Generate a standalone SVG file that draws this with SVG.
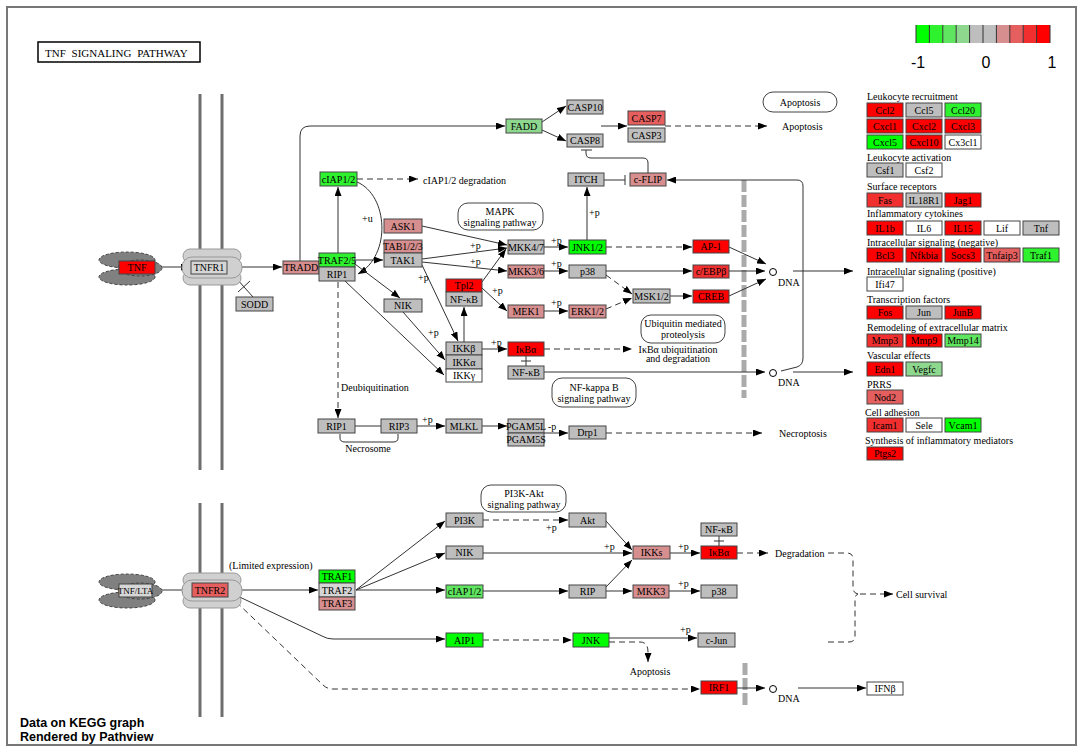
<svg xmlns="http://www.w3.org/2000/svg" width="1084" height="753" viewBox="0 0 1084 753">
<defs>
<marker id="ah" markerWidth="9" markerHeight="7" refX="9" refY="3.5" orient="auto" markerUnits="userSpaceOnUse"><path d="M0,0 L9,3.5 L0,7 z" fill="#000"/></marker>
<style>
.n rect{stroke:#444;stroke-width:1}
.g{fill:#bebebe}.lg{fill:#d6d6d6}.w{fill:#fff}
.r{fill:#ff0000}.r2{fill:#f22f2f}.r3{fill:#e55f5f}.r4{fill:#d78e8e}
.gr{fill:#00ff00}.gr2{fill:#2ff22f}.gr3{fill:#5fe55f}.gr4{fill:#8ed78e}
text{font-family:"Liberation Serif","Times New Roman",serif;font-size:10px;fill:#000}
.t{text-anchor:middle}
.c path,.c line{stroke:#333;stroke-width:1;fill:none}
.c .a{marker-end:url(#ah)}
.c .d{stroke-dasharray:6,4}
.pill{fill:#fff;stroke:#444;stroke-width:1}
.mem{stroke:#6e6e6e;stroke-width:3}
.nuc{stroke:#aaaaaa;stroke-width:5;stroke-dasharray:12,3}
.lig ellipse{fill:#808080;stroke:#444;stroke-width:1;stroke-dasharray:3,2}
.rec rect{fill:#d0d0d0;stroke:#999;stroke-width:1}
.leg{font-family:"Liberation Sans",Arial,sans-serif;font-size:16px;text-anchor:middle}
.foot{font-family:"Liberation Sans",Arial,sans-serif;font-size:12.5px;font-weight:bold}
</style>
</defs>
<rect x="0" y="0" width="1084" height="753" fill="#fff"/>
<rect x="7" y="7" width="1069" height="738" fill="none" stroke="#777" stroke-width="2"/>
<g id="title"><rect x="38" y="42" width="162" height="20" fill="#fff" stroke="#000" stroke-width="1.5"/><text x="45" y="57" style="font-size:11px;word-spacing:3px">TNF SIGNALING PATHWAY</text></g>
<g id="membranes">
<line class="mem" x1="200" y1="94" x2="200" y2="470"/><line class="mem" x1="222" y1="94" x2="222" y2="470"/>
<line class="mem" x1="200" y1="503" x2="200" y2="717"/><line class="mem" x1="222" y1="503" x2="222" y2="717"/>
<line class="nuc" x1="744" y1="180" x2="744" y2="398"/><line class="nuc" x1="745" y1="663" x2="745" y2="708"/>
</g>
<g id="legend">
<rect x="916" y="25" width="13.4" height="18" fill="#00ff00"/><rect x="929.4" y="25" width="13.4" height="18" fill="#2ff22f"/><rect x="942.8" y="25" width="13.4" height="18" fill="#5fe55f"/><rect x="956.2" y="25" width="13.4" height="18" fill="#8ed78e"/><rect x="969.6" y="25" width="13.4" height="18" fill="#bebebe"/><rect x="983" y="25" width="13.4" height="18" fill="#bebebe"/><rect x="996.4" y="25" width="13.4" height="18" fill="#d78e8e"/><rect x="1009.8" y="25" width="13.4" height="18" fill="#e55f5f"/><rect x="1023.2" y="25" width="13.4" height="18" fill="#f22f2f"/><rect x="1036.6" y="25" width="13.4" height="18" fill="#ff0000"/>
<path d="M916,25V43M929.4,25V43M942.8,25V43M956.2,25V43M969.6,25V43M983,25V43M996.4,25V43M1009.8,25V43M1023.2,25V43M1036.6,25V43M1050,25V43" stroke="#333" stroke-width="1"/>
<text class="leg" x="918" y="68">-1</text><text class="leg" x="986" y="68">0</text><text class="leg" x="1052" y="68">1</text>
</g>
<g class="c" id="connectors">
<path class="a" d="M155,267H190"/>
<path class="a" d="M242,267H282"/>
<path d="M228,269L253,297M238,292L250,281"/>
<path class="a" d="M300,261V136Q300,126 310,126H505"/>
<path class="a" d="M338,253V187"/>
<path class="a d" d="M357,179H418"/>
<path class="a" d="M357,182C388,195 392,255 358,274"/>
<path class="a" d="M355,260H383"/>
<path class="a" d="M355,264L400,298"/>
<path class="a" d="M345,281L444,375"/>
<path class="a" d="M422,265L458,341"/>
<path class="a" d="M403,312L445,360"/>
<path class="a" d="M422,226L507,245"/>
<path class="a" d="M422,259L507,248"/>
<path class="a" d="M422,262L507,271"/>
<path class="a" d="M482,282L506,249"/>
<path class="a" d="M482,288L507,311"/>
<path class="a" d="M464,342V307"/>
<path class="a" d="M482,349H507"/>
<path d="M526,356V366M521,361H531"/>
<path class="a" d="M544,247H568"/>
<path class="a" d="M544,271H568"/>
<path class="a" d="M544,311H568"/>
<path class="a" d="M587,240V187"/>
<path class="a d" d="M606,247H692"/>
<path class="a" d="M606,271H692"/>
<path class="a d" d="M606,275L632,294"/>
<path class="a d" d="M606,309L632,298"/>
<path class="a" d="M670,296H692"/>
<path class="a" d="M729,247L766,264"/>
<path class="a" d="M729,271H765"/>
<path class="a" d="M729,296L766,279"/>
<path class="a" d="M793,271H853"/>
<path class="a d" d="M544,349H632"/>
<path class="a" d="M544,372H765"/>
<path class="a" d="M793,372H853"/>
<path class="a" d="M781,371L797,367Q803,365 803,358V186Q803,180 797,180H667"/>
<path d="M604,180H625M625,175V185"/>
<path d="M648,173V163Q648,158 643,158H591Q586,158 586,153V150M581,150H592"/>
<path class="a" d="M542,122L566,106"/>
<path class="a" d="M542,130L566,141"/>
<path class="a" d="M601,126H627"/>
<path class="a d" d="M665,126H767"/>
<path class="a d" d="M338,282V418"/>
<path d="M355,426H381"/>
<path d="M340,434V438Q340,442 345,442H393Q398,442 398,438V434"/>
<path class="a" d="M417,426H445"/>
<path class="a" d="M482,426H507"/>
<path class="a" d="M544,433H568"/>
<path class="a d" d="M606,433H762"/>
<path class="a" d="M162,590H191"/>
<path class="a" d="M242,590H318"/>
<path class="a" d="M356,590L445,521"/>
<path class="a" d="M356,590L445,553"/>
<path class="a" d="M356,590H445"/>
<path class="a" d="M229,592L322,636Q327,639 333,639H445"/>
<path class="a d" d="M229,595L323,685Q327,689 333,689H700"/>
<path class="a d" d="M483,520H568"/>
<path class="a" d="M606,521L632,550"/>
<path class="a" d="M483,553H632"/>
<path class="a" d="M670,553H700"/>
<path d="M719,536V546M714,541H724"/>
<path class="a d" d="M737,553H768"/>
<path class="a" d="M483,591H568"/>
<path class="a" d="M606,587L632,560"/>
<path class="a" d="M606,591H632"/>
<path class="a" d="M669,591H700"/>
<path class="a d" d="M483,640H572"/>
<path class="a" d="M609,638H697"/>
<path class="a d" d="M609,642H640Q648,642 648,652V662"/>
<path class="a" d="M737,688H765"/>
<path class="a" d="M798,688H866"/>
<path class="d" d="M828,553H847Q853,553 853,559V588Q853,593 858,594M828,642H849Q855,642 855,636V600Q855,595 858,594"/>
<path class="a d" d="M860,594H893"/>
</g>
<g id="labels">
<text x="423" y="184">cIAP1/2 degradation</text>
<text x="362" y="222">+u</text>
<text x="470" y="249">+p</text><text x="470" y="265">+p</text><text x="418" y="281">+p</text><text x="428" y="336">+p</text><text x="492" y="294">+p</text>
<text x="551" y="244">+p</text><text x="551" y="267">+p</text><text x="551" y="306">+p</text><text x="491" y="346">+p</text><text x="589" y="216">+p</text>
<text x="422" y="423">+p</text><text x="548" y="430">-p</text>
<text x="546" y="531">+p</text><text x="604" y="550">+p</text><text x="678" y="550">+p</text><text x="678" y="587">+p</text><text x="680" y="633">+p</text>
<rect class="pill" x="458" y="203" width="85" height="27" rx="10"/><text class="t" x="500" y="215">MAPK</text><text class="t" x="500" y="226">signaling pathway</text>
<rect class="pill" x="763" y="92" width="74" height="20" rx="10"/><text class="t" x="800" y="106">Apoptosis</text>
<text x="782" y="130">Apoptosis</text>
<text x="778" y="286">DNA</text><text x="778" y="386">DNA</text><text x="778" y="702">DNA</text>
<circle cx="773" cy="272" r="3.5" fill="#fff" stroke="#000"/><circle cx="773" cy="373" r="3.5" fill="#fff" stroke="#000"/><circle cx="773" cy="689" r="3.5" fill="#fff" stroke="#000"/>
<rect class="pill" x="641" y="315" width="84" height="28" rx="10"/><text class="t" x="683" y="327">Ubiquitin mediated</text><text class="t" x="683" y="338">proteolysis</text>
<text class="t" x="678" y="353">IκBα ubiquitination</text><text class="t" x="678" y="362">and degradation</text>
<rect class="pill" x="552" y="378" width="84" height="29" rx="10"/><text class="t" x="594" y="391">NF-kappa B</text><text class="t" x="594" y="402">signaling pathway</text>
<text x="341" y="391">Deubiquitination</text>
<text class="t" x="368" y="452">Necrosome</text>
<text x="779" y="437">Necroptosis</text>
<text x="229" y="569">(Limited expression)</text>
<rect class="pill" x="481" y="485" width="85" height="27" rx="10"/><text class="t" x="524" y="497">PI3K-Akt</text><text class="t" x="524" y="508">signaling pathway</text>
<text x="775" y="557">Degradation</text>
<text x="896" y="598">Cell survival</text>
<text class="t" x="650" y="675">Apoptosis</text>
</g>
<g id="TNF"><g class="lig"><ellipse cx="127" cy="260" rx="28" ry="8"/><ellipse cx="127" cy="277" rx="28" ry="8"/><ellipse cx="140" cy="268" rx="22" ry="8"/></g><g class="n"><rect class="r" x="119" y="261" width="36" height="13"/></g><text class="t" x="137" y="271">TNF</text></g>
<g id="TNFR1"><g class="rec"><rect x="183" y="249" width="58" height="14" rx="7"/><rect x="183" y="271" width="58" height="14" rx="7"/><rect x="182" y="257" width="60" height="21" rx="10"/></g><g class="n"><rect class="lg" x="191" y="261" width="36" height="13"/></g><text class="t" x="209" y="271">TNFR1</text></g>
<g id="SODD" class="n"><rect class="g" x="236" y="297" width="37" height="14"/><text class="t" x="254.5" y="308">SODD</text></g>
<g id="TRADD" class="n"><rect class="r4" x="283" y="261" width="36" height="13"/><text class="t" x="301" y="271">TRADD</text></g>
<g id="TRAF25" class="n"><rect class="gr2" x="319" y="253" width="36" height="14"/><text class="t" x="337" y="264">TRAF2/5</text><rect class="g" x="319" y="267" width="36" height="14"/><text class="t" x="337" y="278">RIP1</text></g>
<g id="cIAP12a" class="n"><rect class="gr2" x="320" y="172" width="37" height="14"/><text class="t" x="338.5" y="183">cIAP1/2</text></g>
<g id="ASK1" class="n"><rect class="r4" x="384" y="219" width="38" height="14"/><text class="t" x="403" y="230">ASK1</text></g>
<g id="TAB" class="n"><rect class="r4" x="384" y="240" width="38" height="13"/><text class="t" x="403" y="250">TAB1/2/3</text><rect class="g" x="384" y="253" width="38" height="14"/><text class="t" x="403" y="264">TAK1</text></g>
<g id="NIKa" class="n"><rect class="g" x="384" y="299" width="38" height="13"/><text class="t" x="403" y="309">NIK</text></g>
<g id="MKK47" class="n"><rect class="g" x="508" y="240" width="36" height="14"/><text class="t" x="526" y="251">MKK4/7</text></g>
<g id="JNK12" class="n"><rect class="gr" x="569" y="240" width="37" height="14"/><text class="t" x="587.5" y="251">JNK1/2</text></g>
<g id="MKK36" class="n"><rect class="r4" x="508" y="265" width="36" height="13"/><text class="t" x="526" y="275">MKK3/6</text></g>
<g id="p38a" class="n"><rect class="g" x="569" y="265" width="37" height="13"/><text class="t" x="587.5" y="275">p38</text></g>
<g id="Tpl2" class="n"><rect class="r" x="446" y="279" width="36" height="13"/><text class="t" x="464" y="289">Tpl2</text><rect class="g" x="446" y="292" width="36" height="14"/><text class="t" x="464" y="303">NF-κB</text></g>
<g id="MEK1" class="n"><rect class="r4" x="508" y="305" width="36" height="13"/><text class="t" x="526" y="315">MEK1</text></g>
<g id="ERK12" class="n"><rect class="r4" x="569" y="305" width="37" height="13"/><text class="t" x="587.5" y="315">ERK1/2</text></g>
<g id="MSK12" class="n"><rect class="g" x="633" y="289" width="37" height="14"/><text class="t" x="651.5" y="300">MSK1/2</text></g>
<g id="IKK" class="n"><rect class="g" x="446" y="342" width="36" height="13"/><text class="t" x="464" y="352">IKKβ</text><rect class="g" x="446" y="355" width="36" height="14"/><text class="t" x="464" y="366">IKKα</text><rect class="w" x="446" y="369" width="36" height="13"/><text class="t" x="464" y="379">IKKγ</text></g>
<g id="IkBa" class="n"><rect class="r" x="508" y="342" width="36" height="14"/><text class="t" x="526" y="353">IκBα</text></g>
<g id="NFkBa" class="n"><rect class="g" x="508" y="366" width="36" height="13"/><text class="t" x="526" y="376">NF-κB</text></g>
<g id="FADD" class="n"><rect class="gr4" x="506" y="119" width="36" height="14"/><text class="t" x="524" y="130">FADD</text></g>
<g id="CASP10" class="n"><rect class="g" x="567" y="100" width="36" height="14"/><text class="t" x="585" y="111">CASP10</text></g>
<g id="CASP8" class="n"><rect class="g" x="567" y="134" width="36" height="13"/><text class="t" x="585" y="144">CASP8</text></g>
<g id="CASP73" class="n"><rect class="r3" x="628" y="111" width="37" height="14"/><text class="t" x="646.5" y="122">CASP7</text><rect class="g" x="628" y="128" width="37" height="14"/><text class="t" x="646.5" y="139">CASP3</text></g>
<g id="ITCH" class="n"><rect class="g" x="568" y="173" width="36" height="13"/><text class="t" x="586" y="183">ITCH</text></g>
<g id="cFLIP" class="n"><rect class="r4" x="630" y="173" width="36" height="13"/><text class="t" x="648" y="183">c-FLIP</text></g>
<g id="AP1" class="n"><rect class="r" x="693" y="240" width="36" height="13"/><text class="t" x="711" y="250">AP-1</text></g>
<g id="CEBPB" class="n"><rect class="r2" x="693" y="265" width="36" height="13"/><text class="t" x="711" y="275">c/EBPβ</text></g>
<g id="CREB" class="n"><rect class="r" x="693" y="290" width="36" height="13"/><text class="t" x="711" y="300">CREB</text></g>
<g id="RIP1b" class="n"><rect class="g" x="318" y="419" width="37" height="14"/><text class="t" x="336.5" y="430">RIP1</text></g>
<g id="RIP3" class="n"><rect class="g" x="381" y="419" width="36" height="14"/><text class="t" x="399" y="430">RIP3</text></g>
<g id="MLKL" class="n"><rect class="g" x="446" y="419" width="36" height="14"/><text class="t" x="464" y="430">MLKL</text></g>
<g id="PGAM5" class="n"><rect class="g" x="508" y="419" width="36" height="14"/><text class="t" x="526" y="430">PGAM5L</text><rect class="g" x="508" y="433" width="36" height="13"/><text class="t" x="526" y="443">PGAM5S</text></g>
<g id="Drp1" class="n"><rect class="g" x="569" y="426" width="37" height="13"/><text class="t" x="587.5" y="436">Drp1</text></g>
<g id="TNFLTA"><g class="lig"><ellipse cx="127" cy="582" rx="28" ry="8"/><ellipse cx="127" cy="600" rx="28" ry="8"/><ellipse cx="140" cy="591" rx="22" ry="8"/></g><g class="n"><rect class="lg" x="119" y="584" width="33" height="13"/></g><text class="t" x="135.5" y="594" style="font-size:9px">TNF/LTA</text></g>
<g id="TNFR2"><g class="rec"><rect x="183" y="573" width="58" height="14" rx="7"/><rect x="183" y="594" width="58" height="14" rx="7"/><rect x="182" y="580" width="60" height="21" rx="10"/></g><g class="n"><rect class="r3" x="192" y="583" width="36" height="14"/></g><text class="t" x="210" y="594">TNFR2</text></g>
<g id="TRAF123" class="n"><rect class="gr" x="319" y="570" width="36" height="13"/><text class="t" x="337" y="580">TRAF1</text><rect class="lg" x="319" y="583" width="36" height="14"/><text class="t" x="337" y="594">TRAF2</text><rect class="r4" x="319" y="597" width="36" height="13"/><text class="t" x="337" y="607">TRAF3</text></g>
<g id="PI3K" class="n"><rect class="g" x="446" y="513" width="37" height="14"/><text class="t" x="464.5" y="524">PI3K</text></g>
<g id="Akt" class="n"><rect class="g" x="569" y="513" width="37" height="14"/><text class="t" x="587.5" y="524">Akt</text></g>
<g id="NIKb" class="n"><rect class="g" x="446" y="546" width="37" height="13"/><text class="t" x="464.5" y="556">NIK</text></g>
<g id="IKKs" class="n"><rect class="r4" x="633" y="546" width="37" height="13"/><text class="t" x="651.5" y="556">IKKs</text></g>
<g id="NFkBb" class="n"><rect class="g" x="701" y="523" width="36" height="13"/><text class="t" x="719" y="533">NF-κB</text></g>
<g id="IkBab" class="n"><rect class="r" x="701" y="546" width="36" height="13"/><text class="t" x="719" y="556">IκBα</text></g>
<g id="cIAP12b" class="n"><rect class="gr3" x="446" y="585" width="37" height="13"/><text class="t" x="464.5" y="595">cIAP1/2</text></g>
<g id="RIP" class="n"><rect class="g" x="569" y="585" width="37" height="13"/><text class="t" x="587.5" y="595">RIP</text></g>
<g id="MKK3" class="n"><rect class="r4" x="633" y="585" width="36" height="13"/><text class="t" x="651" y="595">MKK3</text></g>
<g id="p38b" class="n"><rect class="g" x="701" y="585" width="36" height="13"/><text class="t" x="719" y="595">p38</text></g>
<g id="AIP1" class="n"><rect class="gr" x="446" y="633" width="37" height="14"/><text class="t" x="464.5" y="644">AIP1</text></g>
<g id="JNK" class="n"><rect class="gr" x="573" y="633" width="36" height="14"/><text class="t" x="591" y="644">JNK</text></g>
<g id="cJun" class="n"><rect class="g" x="698" y="633" width="37" height="14"/><text class="t" x="716.5" y="644">c-Jun</text></g>
<g id="IRF1" class="n"><rect class="r" x="701" y="681" width="36" height="13"/><text class="t" x="719" y="691">IRF1</text></g>
<g id="IFNB" class="n"><rect class="w" x="867" y="682" width="36" height="13"/><text class="t" x="885" y="692">IFNβ</text></g>
<g id="outputs">
<text x="867" y="100">Leukocyte recruitment</text>
<g class="n"><rect class="r" x="867" y="103" width="36" height="14"/><rect class="g" x="906" y="103" width="36" height="14"/><rect class="gr2" x="945" y="103" width="36" height="14"/>
<rect class="r" x="867" y="119" width="36" height="14"/><rect class="r" x="906" y="119" width="36" height="14"/><rect class="r" x="945" y="119" width="36" height="14"/>
<rect class="gr" x="867" y="135" width="36" height="14"/><rect class="r" x="906" y="135" width="36" height="14"/><rect class="w" x="945" y="135" width="36" height="14"/></g>
<text class="t" x="885" y="114">Ccl2</text><text class="t" x="924" y="114">Ccl5</text><text class="t" x="963" y="114">Ccl20</text>
<text class="t" x="885" y="130">Cxcl1</text><text class="t" x="924" y="130">Cxcl2</text><text class="t" x="963" y="130">Cxcl3</text>
<text class="t" x="885" y="146">Cxcl5</text><text class="t" x="924" y="146">Cxcl10</text><text class="t" x="963" y="146">Cx3cl1</text>
<text x="867" y="161">Leukocyte activation</text>
<g class="n"><rect class="g" x="867" y="163" width="36" height="14"/><rect class="w" x="906" y="163" width="36" height="14"/></g>
<text class="t" x="885" y="174">Csf1</text><text class="t" x="924" y="174">Csf2</text>
<text x="867" y="190">Surface receptors</text>
<g class="n"><rect class="r2" x="867" y="193" width="36" height="14"/><rect class="g" x="906" y="193" width="36" height="14"/><rect class="r" x="945" y="193" width="36" height="14"/></g>
<text class="t" x="885" y="204">Fas</text><text class="t" x="924" y="204">IL18R1</text><text class="t" x="963" y="204">Jag1</text>
<text x="867" y="217">Inflammatory cytokines</text>
<g class="n"><rect class="r" x="867" y="221" width="36" height="14"/><rect class="w" x="906" y="221" width="36" height="14"/><rect class="r" x="945" y="221" width="36" height="14"/><rect class="w" x="984" y="221" width="36" height="14"/><rect class="g" x="1023" y="221" width="36" height="14"/></g>
<text class="t" x="885" y="232">IL1b</text><text class="t" x="924" y="232">IL6</text><text class="t" x="963" y="232">IL15</text><text class="t" x="1002" y="232">Lif</text><text class="t" x="1041" y="232">Tnf</text>
<text x="867" y="246">Intracellular signaling (negative)</text>
<g class="n"><rect class="r" x="867" y="248" width="36" height="14"/><rect class="r" x="906" y="248" width="36" height="14"/><rect class="r" x="945" y="248" width="36" height="14"/><rect class="r3" x="984" y="248" width="36" height="14"/><rect class="gr2" x="1023" y="248" width="36" height="14"/></g>
<text class="t" x="885" y="259">Bcl3</text><text class="t" x="924" y="259">Nfkbia</text><text class="t" x="963" y="259">Socs3</text><text class="t" x="1002" y="259">Tnfaip3</text><text class="t" x="1041" y="259">Traf1</text>
<text x="867" y="275">Intracellular signaling (positive)</text>
<g class="n"><rect class="w" x="867" y="277" width="36" height="14"/></g>
<text class="t" x="885" y="288">Ifi47</text>
<text x="867" y="303">Transcription factors</text>
<g class="n"><rect class="r" x="867" y="306" width="36" height="13"/><rect class="g" x="906" y="306" width="36" height="13"/><rect class="r" x="945" y="306" width="36" height="13"/></g>
<text class="t" x="885" y="316">Fos</text><text class="t" x="924" y="316">Jun</text><text class="t" x="963" y="316">JunB</text>
<text x="867" y="331">Remodeling of extracellular matrix</text>
<g class="n"><rect class="r2" x="867" y="334" width="36" height="13"/><rect class="r" x="906" y="334" width="36" height="13"/><rect class="gr3" x="945" y="334" width="36" height="13"/></g>
<text class="t" x="885" y="344">Mmp3</text><text class="t" x="924" y="344">Mmp9</text><text class="t" x="963" y="344">Mmp14</text>
<text x="867" y="359">Vascular effects</text>
<g class="n"><rect class="r" x="867" y="362" width="36" height="14"/><rect class="gr4" x="906" y="362" width="36" height="14"/></g>
<text class="t" x="885" y="373">Edn1</text><text class="t" x="924" y="373">Vegfc</text>
<text x="867" y="388">PRRS</text>
<g class="n"><rect class="r3" x="867" y="390" width="36" height="14"/></g>
<text class="t" x="885" y="401">Nod2</text>
<text x="865" y="416">Cell adhesion</text>
<g class="n"><rect class="r2" x="867" y="418" width="36" height="14"/><rect class="w" x="906" y="418" width="36" height="14"/><rect class="gr" x="945" y="418" width="36" height="14"/></g>
<text class="t" x="885" y="429">Icam1</text><text class="t" x="924" y="429">Sele</text><text class="t" x="963" y="429">Vcam1</text>
<text x="865" y="444">Synthesis of inflammatory mediators</text>
<g class="n"><rect class="r" x="867" y="447" width="36" height="13"/></g>
<text class="t" x="885" y="457">Ptgs2</text>
</g>
<g id="footer"><text class="foot" x="20" y="727">Data on KEGG graph</text><text class="foot" x="20" y="741">Rendered by Pathview</text></g>
</svg>
